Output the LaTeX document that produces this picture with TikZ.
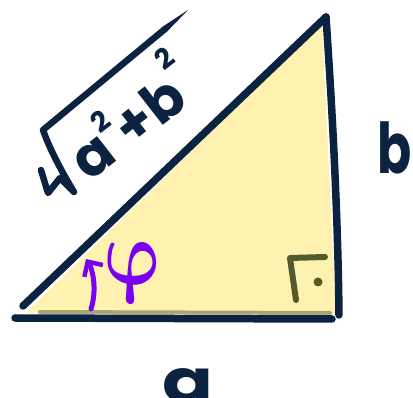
\documentclass[tikz,border=0pt]{standalone}
\usepackage{fontspec}
\setmainfont{Poppins}
\usetikzlibrary{arrows.meta}
\definecolor{navy}{HTML}{0B2240}
\definecolor{tri}{HTML}{FFF2B0}
\definecolor{olivemark}{HTML}{535A2C}
\definecolor{phi}{HTML}{7A00F0}
\tikzset{
  edge/.style={draw=navy, line width=7.5pt, line cap=round},
  lbl/.style={text=navy, inner sep=0pt},
  stroke/.style={draw=navy, line width=6.5pt, line cap=round, line join=round},
}
\begin{document}
\begin{tikzpicture}[x=1pt,y=-1pt]
\useasboundingbox (0,0) rectangle (413,398);
\coordinate (HL) at (23,306);
\coordinate (T) at (326,17);
\coordinate (BL) at (15,318);
\coordinate (BR) at (332,319);
\coordinate (RB) at (339,315);
% fill
\fill[tri] (26,313) -- (322,24) -- (336,314) -- cycle;
\draw[olivemark, line width=4pt, line cap=round, opacity=0.5] (40,312) -- (330,313);
% edges
\draw[edge] (HL) -- (T);
\draw[edge] (T) .. controls (333,120) and (338,220) .. (RB);
\draw[edge] (BL) -- (BR);
% hypotenuse label: radical drawn, radicand as text
\coordinate (r1) at (41,170);
\coordinate (r2) at (48,193);
\coordinate (r3) at (60,178);
\coordinate (r4) at (74,192);
\coordinate (r5) at (43,130);
\coordinate (r6) at (165,29);
\draw[stroke] (r1) -- (r2) -- (r3) -- (r4) .. controls (62,172) and (50,150) .. (r5) -- (r6);
\fill[navy] (167.1,31.5) -- (188,10) -- (162.9,26.5) -- cycle;
\node[lbl, rotate=38, font=\bfseries\fontsize{56}{60}\selectfont] (hyp) at (127,114) {a\raisebox{0.55em}{\fontsize{28}{28}\selectfont 2}+b\raisebox{0.75em}{\fontsize{28}{28}\selectfont 2}};
\node[lbl, font=\bfseries\fontsize{70}{74}\selectfont] (b) at (395,148) {\scalebox{0.72}[1]{b}};
\node[lbl, font=\bfseries\fontsize{60}{64}\selectfont, anchor=base] (a) at (188,403) {\scalebox{1.25}[1]{a}};
\node[text=phi, inner sep=0pt, xslant=-0.22] (ph) at (134,273) {\scalebox{7.6}[9.3]{\boldmath$\varphi$}};
\coordinate (ar1) at (91,309);
\coordinate (ar2) at (86,259);
\draw[phi, line width=5pt, line cap=round, -{Straight Barb[length=11pt,width=22pt,line width=4.5pt]}] (ar1) .. controls (97,290) and (93,270) .. (ar2);
% right angle mark
\coordinate (m1) at (290,258);
\coordinate (m2) at (325,257);
\coordinate (m3) at (296,300);
\draw[olivemark, line width=6pt, line cap=round, line join=round] (m2) -- (m1) -- (m3);
\fill[olivemark] (318,282) circle (4.5pt);
\end{tikzpicture}
\end{document}
